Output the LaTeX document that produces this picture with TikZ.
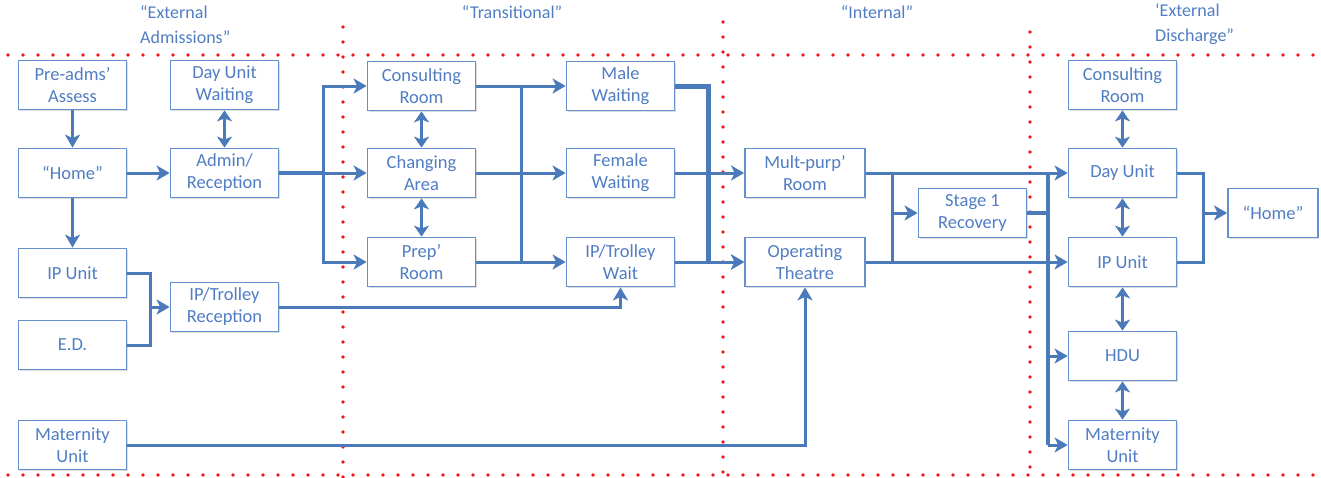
\documentclass[tikz,border=0pt]{standalone}
\usepackage{fontspec}
\setmainfont{Carlito}
\usetikzlibrary{arrows.meta,shadows}

\definecolor{boxblue}{RGB}{100,145,205}
\definecolor{txtblue}{RGB}{80,125,195}
\definecolor{linkblue}{RGB}{74,122,185}
\definecolor{zonered}{RGB}{240,20,20}

\tikzset{
  unit/.style={draw=boxblue, line width=1.8pt, fill=white, text=txtblue,
    minimum width=108pt, minimum height=49pt, inner sep=0pt, align=center,
    font=\fontsize{18.5}{22}\selectfont,
    drop shadow={shadow xshift=1.2pt, shadow yshift=-1.6pt, fill=black!22, opacity=0.6}},
  wide/.style={minimum width=120pt},
  link/.style={draw=linkblue, line width=3pt, line join=miter},
  flow/.style={link, -{Stealth[length=13pt,width=15pt,inset=3.5pt]}},
  both/.style={link, {Stealth[length=11pt,width=15pt,inset=3pt]}-{Stealth[length=11pt,width=15pt,inset=3pt]}},
  zone/.style={draw=zonered, line width=3.6pt, line cap=round, dash pattern=on 0pt off 15pt},
  zonetitle/.style={text=txtblue, align=left, anchor=north west, inner sep=0pt,
    font=\fontsize{18}{25}\selectfont}
}

\begin{document}
\begin{tikzpicture}[x=1pt,y=-1pt]
\useasboundingbox (0,0) rectangle (1321,477);

% zone boundaries
\draw[zone] (8,55) -- (1321,55);
\draw[zone] (8,475) -- (1321,475);
\draw[zone] (343,27) -- (343,477);
\draw[zone] (723,22) -- (723,477);
\draw[zone] (1030,32) -- (1030,477);

% zone titles
\node[zonetitle] (tadm) at (140,5) {“External\\Admissions”};
\node[zonetitle, anchor=north] (ttrn) at (512,5) {“Transitional”};
\node[zonetitle, anchor=north] (tint) at (877,5) {“Internal”};
\node[zonetitle] (tdis) at (1155,3) {‘External\\Discharge”};

% external admissions
\node[unit] (pre)   at (72.5,85)  {Pre-adms’\\Assess};
\node[unit] (home)  at (72.5,173) {“Home”};
\node[unit] (ipl)   at (72.5,273) {IP Unit};
\node[unit] (ed)    at (72.5,345) {E.D.};
\node[unit] (matl)  at (72.5,445) {Maternity\\Unit};
\node[unit] (duw)   at (224.5,85)  {Day Unit\\Waiting};
\node[unit] (adm)   at (224.5,173) {Admin/\\Reception};
\node[unit] (iptr)  at (224.5,307) {IP/Trolley\\Reception};

% transitional
\node[unit] (cons)  at (421.5,86)  {Consulting\\Room};
\node[unit] (chg)   at (421.5,173) {Changing\\Area};
\node[unit] (prep)  at (421.5,262) {Prep’\\Room};
\node[unit] (male)  at (620.5,86)  {Male\\Waiting};
\node[unit] (fem)   at (620.5,173) {Female\\Waiting};
\node[unit] (ipw)   at (620.5,262) {IP/Trolley\\Wait};

% internal
\node[unit,wide] (mult) at (805,173) {Mult-purp’\\Room};
\node[unit,wide] (ot)   at (805,262) {Operating\\Theatre};
\node[unit] (rec)  at (972.5,213) {Stage 1\\Recovery};

% external discharge
\node[unit] (consr) at (1122.5,85)  {Consulting\\Room};
\node[unit] (day)   at (1122.5,173) {Day Unit};
\node[unit] (ipr)   at (1122.5,262) {IP Unit};
\node[unit] (hdu)   at (1122.5,356) {HDU};
\node[unit] (matr)  at (1122.5,445) {Maternity\\Unit};
\node[unit, minimum width=90pt] (homer) at (1273,213) {“Home”};

% junction points of the trunk lines
\coordinate (j1) at (323,173);
\coordinate (j2) at (521,86);
\coordinate (j3) at (708,86);
\coordinate (j4) at (892,173);
\coordinate (j5) at (1048,173);
\coordinate (j6) at (1203,173);
\coordinate (j7) at (150,273);

% admissions flows
\draw[flow] (pre) -- (home);
\draw[flow] (home) -- (ipl);
\draw[flow] (home) -- (adm);
\draw[both] (duw) -- (adm);
\draw[link] (ipl.east) -| (j7 |- ed.east) -- (ed.east);
\draw[flow] (j7 |- iptr.west) -- (iptr.west);
\draw[flow] (iptr.east) -| (ipw.south);
\draw[flow] (matl.east) -| (ot.south);

% reception to transitional rooms
\draw[link, line width=3.6pt] (adm.east) -- (j1);
\draw[flow] (j1) -- (chg.west);
\draw[flow] (j1) |- (cons.west);
\draw[flow] (j1) |- (prep.west);
\draw[both] (cons) -- (chg);
\draw[both] (chg) -- (prep);

% transitional rooms to waiting areas
\draw[link] (j2) -- (j2 |- prep.east);
\draw[flow] (cons.east) -- (male.west);
\draw[flow] (chg.east) -- (fem.west);
\draw[flow] (prep.east) -- (ipw.west);

% waiting areas to theatre
\draw[link, line width=5pt] (male.east) -| (j3 |- ot.west);
\draw[flow] (j3 |- ot.west) -- (ot.west);
\draw[flow] (fem.east) -- (mult.west);
\draw[flow] (ipw.east) -- (ot.west);

% theatre to recovery and discharge
\draw[link] (j4) -- (j4 |- ot.east);
\draw[flow] (j4 |- rec.west) -- (rec.west);
\draw[flow] (mult.east) -- (day.west);
\draw[flow] (ot.east) -- (ipr.west);
\draw[link, line width=4pt] (rec.east) -- (j5 |- rec.east);
\draw[link, line width=4pt] (j5) -- (j5 |- matr.west);
\draw[flow] (j5 |- hdu.west) -- (hdu.west);
\draw[flow] (j5 |- matr.west) -- (matr.west);

% discharge units
\draw[both] (consr) -- (day);
\draw[both] (day) -- (ipr);
\draw[both] (ipr) -- (hdu);
\draw[both] (hdu) -- (matr);
\draw[link] (day.east) -| (j6 |- ipr.east) -- (ipr.east);
\draw[flow] (j6 |- homer.west) -- (homer.west);
\end{tikzpicture}
\end{document}
